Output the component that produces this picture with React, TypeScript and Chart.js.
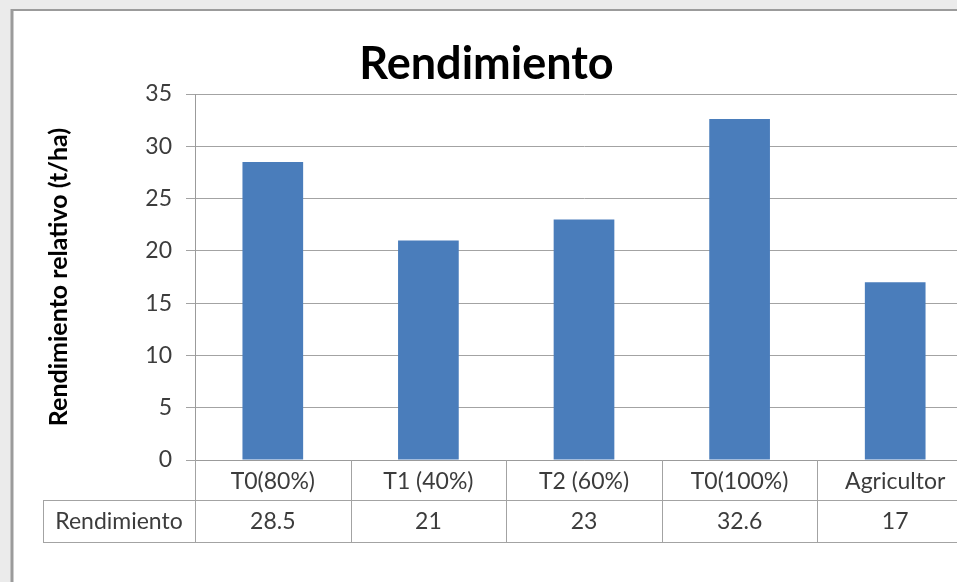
import React, { useEffect, useRef } from "react";
import { Chart, registerables } from "chart.js";

Chart.register(...registerables);

const categories = ["T0(80%)", "T1 (40%)", "T2 (60%)", "T0(100%)", "Agricultor"];
const values = [28.5, 21, 23, 32.6, 17];
const seriesName = "Rendimiento";
const chartTitle = "Rendimiento";
const yAxisTitle = "Rendimiento relativo (t/ha)";
const yMin = 0;
const yMax = 35;
const yStep = 5;

const FONT = "Lato, 'Open Sans', sans-serif";
const TEXT = "#3c3c3c";
const LINE = "#a3a3a3";
const BAR = "#4a7dbb";

const CANVAS_W = 985;
const CANVAS_H = 582;

// Gray page backdrop and the white framed chart box
const framePlugin = {
  id: "frame",
  beforeDraw(chart: any) {
    const { ctx, width, height } = chart;
    ctx.save();
    ctx.fillStyle = "#ebebeb";
    ctx.fillRect(0, 0, width, height);
    ctx.fillStyle = "#ffffff";
    ctx.fillRect(12, 10, width, height);
    ctx.strokeStyle = "#9b9b9b";
    ctx.lineWidth = 3;
    ctx.beginPath();
    ctx.moveTo(12, 9);
    ctx.lineTo(12, height);
    ctx.stroke();
    ctx.lineWidth = 2;
    ctx.beginPath();
    ctx.moveTo(11, 10);
    ctx.lineTo(width, 10);
    ctx.stroke();
    ctx.restore();
  },
};

// Data table under the plot: category row (axis labels) + value row
const ROW1_H = 40;
const ROW2_H = 42;
const LABEL_CELL_W = 152;

const tablePlugin = {
  id: "dataTable",
  afterDraw(chart: any) {
    const { ctx, chartArea } = chart;
    const x = chart.scales.x;
    const n = categories.length;
    const step = x.getPixelForValue(1) - x.getPixelForValue(0);
    const left = chartArea.left;
    const right = x.getPixelForValue(n - 1) + step / 2;
    const top = chartArea.bottom;
    const r1 = top + ROW1_H;
    const r2 = r1 + ROW2_H;
    const labelLeft = left - LABEL_CELL_W;

    ctx.save();
    ctx.strokeStyle = LINE;
    ctx.lineWidth = 1;
    ctx.beginPath();
    // horizontal rules
    ctx.moveTo(labelLeft, Math.round(r1) + 0.5);
    ctx.lineTo(right, Math.round(r1) + 0.5);
    ctx.moveTo(labelLeft, Math.round(r2) + 0.5);
    ctx.lineTo(right, Math.round(r2) + 0.5);
    // series label cell left edge
    ctx.moveTo(Math.round(labelLeft) + 0.5, r1);
    ctx.lineTo(Math.round(labelLeft) + 0.5, r2);
    // column separators
    for (let i = 0; i <= n; i++) {
      const px = Math.round(left + i * step) + 0.5;
      ctx.moveTo(px, top);
      ctx.lineTo(px, r2);
    }
    ctx.stroke();

    ctx.fillStyle = TEXT;
    ctx.font = `23px ${FONT}`;
    ctx.textAlign = "center";
    ctx.textBaseline = "middle";
    const cy = (r1 + r2) / 2 + 1;
    ctx.fillText(seriesName, (labelLeft + left) / 2, cy);
    values.forEach((v, i) => {
      ctx.fillText(String(v), x.getPixelForValue(i), cy);
    });
    ctx.restore();
  },
};

export default function App() {
  const ref = useRef<HTMLCanvasElement | null>(null);

  useEffect(() => {
    if (!ref.current) return;
    const chart = new Chart(ref.current, {
      type: "bar",
      data: {
        labels: categories,
        datasets: [
          {
            label: seriesName,
            data: values,
            backgroundColor: BAR,
            borderWidth: 0,
            categoryPercentage: 1,
            barPercentage: 0.39,
          },
        ],
      },
      options: {
        responsive: false,
        animation: false,
        events: [],
        layout: { padding: { top: 0, left: 0, right: 12, bottom: 0 } },
        plugins: {
          legend: { display: false },
          tooltip: { enabled: false },
          title: {
            display: true,
            text: chartTitle,
            color: "#000000",
            font: { family: FONT, size: 45, weight: "bold" },
            padding: { top: 37, bottom: 3 },
          },
        },
        scales: {
          x: {
            grid: { display: false, drawTicks: false },
            border: { display: true, color: "#9b9b9b", width: 1 },
            ticks: {
              color: TEXT,
              font: { family: FONT, size: 23 },
              padding: 8,
              maxRotation: 0,
              autoSkip: false,
            },
            afterFit(scale: any) {
              scale.height = CANVAS_H - 460;
            },
          },
          y: {
            min: yMin,
            max: yMax,
            grid: { color: LINE, lineWidth: 1, drawTicks: true, tickLength: 9 },
            border: { display: true, color: "#9b9b9b", width: 1 },
            ticks: {
              stepSize: yStep,
              color: TEXT,
              font: { family: FONT, size: 23 },
              padding: 14,
            },
            title: {
              display: true,
              text: yAxisTitle,
              color: "#000000",
              font: { family: FONT, size: 25, weight: "bold" },
              padding: { top: 44, bottom: 0 },
            },
            afterFit(scale: any) {
              scale.width = 195;
            },
          },
        },
      },
      plugins: [framePlugin, tablePlugin],
    });
    return () => chart.destroy();
  }, []);

  return (
    <div
      style={{
        position: "fixed",
        left: 0,
        top: 0,
        width: 957,
        height: 582,
        overflow: "hidden",
      }}
    >
      <canvas ref={ref} width={CANVAS_W} height={CANVAS_H} style={{ display: "block" }} />
    </div>
  );
}
